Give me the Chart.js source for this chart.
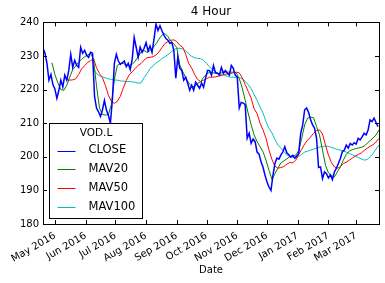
<!DOCTYPE html>
<html>
<head>
<meta charset="utf-8">
<script src="https://cdn.jsdelivr.net/npm/chart.js@4.4.0/dist/chart.umd.min.js"></script>
<style>
html, body { margin: 0; padding: 0; background: #fff; }
canvas { display: block; }
</style>
</head>
<body>
<canvas id="chart" width="385" height="283"></canvas>
<script>
// VOD.L close, sampled every 2 days
const closeDates = [
    '2016-04-19', '2016-04-21', '2016-04-23', '2016-04-25', '2016-04-27', '2016-04-29',
    '2016-05-01', '2016-05-03', '2016-05-05', '2016-05-07', '2016-05-09', '2016-05-11', '2016-05-13', '2016-05-15',
    '2016-05-17', '2016-05-19', '2016-05-21', '2016-05-23', '2016-05-25', '2016-05-27', '2016-05-29', '2016-05-31',
    '2016-06-02', '2016-06-04', '2016-06-06', '2016-06-08', '2016-06-10', '2016-06-12', '2016-06-14', '2016-06-16',
    '2016-06-18', '2016-06-20', '2016-06-22', '2016-06-24', '2016-06-26', '2016-06-28', '2016-06-30',
    '2016-07-02', '2016-07-04', '2016-07-06', '2016-07-08', '2016-07-10', '2016-07-12', '2016-07-14', '2016-07-16',
    '2016-07-18', '2016-07-20', '2016-07-22', '2016-07-24', '2016-07-26', '2016-07-28', '2016-07-30',
    '2016-08-01', '2016-08-03', '2016-08-05', '2016-08-07', '2016-08-09', '2016-08-11', '2016-08-13', '2016-08-15',
    '2016-08-17', '2016-08-19', '2016-08-21', '2016-08-23', '2016-08-25', '2016-08-27', '2016-08-29', '2016-08-31',
    '2016-09-02', '2016-09-04', '2016-09-06', '2016-09-08', '2016-09-10', '2016-09-12', '2016-09-14', '2016-09-16',
    '2016-09-18', '2016-09-20', '2016-09-22', '2016-09-24', '2016-09-26', '2016-09-28', '2016-09-30',
    '2016-10-02', '2016-10-04', '2016-10-06', '2016-10-08', '2016-10-10', '2016-10-12', '2016-10-14', '2016-10-16',
    '2016-10-18', '2016-10-20', '2016-10-22', '2016-10-24', '2016-10-26', '2016-10-28', '2016-10-30',
    '2016-11-01', '2016-11-03', '2016-11-05', '2016-11-07', '2016-11-09', '2016-11-11', '2016-11-13', '2016-11-15',
    '2016-11-17', '2016-11-19', '2016-11-21', '2016-11-23', '2016-11-25', '2016-11-27', '2016-11-29',
    '2016-12-01', '2016-12-03', '2016-12-05', '2016-12-07', '2016-12-09', '2016-12-11', '2016-12-13', '2016-12-15',
    '2016-12-17', '2016-12-19', '2016-12-21', '2016-12-23', '2016-12-25', '2016-12-27', '2016-12-29', '2016-12-31',
    '2017-01-02', '2017-01-04', '2017-01-06', '2017-01-08', '2017-01-10', '2017-01-12', '2017-01-14', '2017-01-16',
    '2017-01-18', '2017-01-20', '2017-01-22', '2017-01-24', '2017-01-26', '2017-01-28', '2017-01-30',
    '2017-02-01', '2017-02-03', '2017-02-05', '2017-02-07', '2017-02-09', '2017-02-11', '2017-02-13',
    '2017-02-15', '2017-02-17', '2017-02-19', '2017-02-21', '2017-02-23', '2017-02-25', '2017-02-27',
    '2017-03-01', '2017-03-03', '2017-03-05', '2017-03-07', '2017-03-09', '2017-03-11',
    '2017-03-13', '2017-03-15', '2017-03-17', '2017-03-19', '2017-03-21', '2017-03-23'
];

const closePrices = [
    232.3, 230.8, 227.8, 222.8, 224.5, 221.5,
    220.2, 217.4, 219.8, 222.8, 220.8, 224.3, 222.8, 225.7,
    230.5, 226.6, 228.7, 227.2, 226.6, 232.6, 230.8, 231.7,
    230.2, 229.6, 231.1, 230.8, 218, 214.5, 213.4, 212,
    214, 216.8, 213.9, 212.3, 210, 217, 227.8,
    230.5, 228.5, 227.5, 228, 228.5, 226.8, 227.8, 226,
    229, 235.5, 232.6, 229.6, 232.6, 231.1, 232.3,
    234, 231.5, 233, 231.1, 235, 239.5, 237.6, 239,
    237.5, 236.2, 235.2, 234.7, 233.8, 234, 231.7, 223.4,
    229.6, 226.3, 225.7, 222.8, 223.7, 221.9, 219.8, 221.3,
    219.8, 222.2, 221.3, 220.4, 222, 220.7, 223.4,
    225.7, 225.7, 224.3, 227.2, 225, 224.9, 224.3, 226.6,
    224.9, 225.7, 224.9, 224.3, 227.2, 226.3, 224.3,
    223.7, 214.5, 216.2, 216, 215.5, 205.5, 207, 204,
    205.3, 204.5, 201.4, 200.8, 198.5, 196.9, 194.5,
    192.5, 191, 190, 194.5, 198, 199.6, 199.3, 200.5,
    201.5, 203, 201.2, 200.6, 199.9, 200.4, 199.6, 200.2,
    201, 207, 209.5, 214, 214.5, 213.2, 211, 209.5,
    208.5, 205.5, 196.8, 197, 193.5, 195.5, 195,
    193.7, 194.6, 193.2, 195.5, 196.6, 198, 199.5,
    201.5, 202, 203.5, 202.6, 204, 203.5, 204.2,
    203.8, 205.5, 205, 205.9, 207, 206.5,
    208, 211, 210.5, 211.5, 210.2, 209
];

// moving averages, sampled every 3 days
const dates = [
    '2016-04-19', '2016-04-22', '2016-04-25', '2016-04-28',
    '2016-05-01', '2016-05-04', '2016-05-07', '2016-05-10', '2016-05-13', '2016-05-16', '2016-05-19', '2016-05-22', '2016-05-25', '2016-05-28', '2016-05-31',
    '2016-06-03', '2016-06-06', '2016-06-09', '2016-06-12', '2016-06-15', '2016-06-18', '2016-06-21', '2016-06-24', '2016-06-27', '2016-06-30',
    '2016-07-03', '2016-07-06', '2016-07-09', '2016-07-12', '2016-07-15', '2016-07-18', '2016-07-21', '2016-07-24', '2016-07-27', '2016-07-30',
    '2016-08-02', '2016-08-05', '2016-08-08', '2016-08-11', '2016-08-14', '2016-08-17', '2016-08-20', '2016-08-23', '2016-08-26', '2016-08-29',
    '2016-09-01', '2016-09-04', '2016-09-07', '2016-09-10', '2016-09-13', '2016-09-16', '2016-09-19', '2016-09-22', '2016-09-25', '2016-09-28',
    '2016-10-01', '2016-10-04', '2016-10-07', '2016-10-10', '2016-10-13', '2016-10-16', '2016-10-19', '2016-10-22', '2016-10-25', '2016-10-28', '2016-10-31',
    '2016-11-03', '2016-11-06', '2016-11-09', '2016-11-12', '2016-11-15', '2016-11-18', '2016-11-21', '2016-11-24', '2016-11-27', '2016-11-30',
    '2016-12-03', '2016-12-06', '2016-12-09', '2016-12-12', '2016-12-15', '2016-12-18', '2016-12-21', '2016-12-24', '2016-12-27', '2016-12-30',
    '2017-01-02', '2017-01-05', '2017-01-08', '2017-01-11', '2017-01-14', '2017-01-17', '2017-01-20', '2017-01-23', '2017-01-26', '2017-01-29',
    '2017-02-01', '2017-02-04', '2017-02-07', '2017-02-10', '2017-02-13', '2017-02-16', '2017-02-19', '2017-02-22', '2017-02-25', '2017-02-28',
    '2017-03-03', '2017-03-06', '2017-03-09', '2017-03-12', '2017-03-15', '2017-03-18', '2017-03-21', '2017-03-24'
];

const mav20 = [
    null, null, null, 228,
    224.5, 222, 220, 219.8, 221.3, 223.7, 226, 227, 228.2, 229, 229.8,
    230.3, 230.8, 229, 221, 214.5, 212.6, 212.4, 212.6, 215.5, 223,
    227.2, 227.8, 227.8, 227.3, 227.2, 227.5, 228.5, 229.8, 231.2, 231.6,
    231.1, 231.6, 232.5, 233.6, 235, 236.2, 236.7, 235.8, 234.4, 233.6,
    232.5, 227.3, 225.4, 223.5, 222, 221, 220.9, 221.9, 222.3, 223.7,
    224.5, 225.2, 225, 224.9, 224.8, 225, 225.2, 225.2, 225.2, 225.2, 225,
    223.3, 220.5, 216.8, 213, 209.5, 206.5, 204.5, 203, 201.5, 199,
    196, 193.3, 195, 196.6, 198.2, 198.8, 199.4, 200, 200.3, 200.5,
    201.8, 205.5, 209.5, 211.5, 211.8, 211.6, 209, 206.5, 202, 197.5,
    195.2, 194.4, 194, 195.5, 197, 199, 200.7, 201.7, 202.1, 202.4,
    202.6, 202.8, 203.2, 204, 204.8, 205.6, 206.5, 208
];

const mav50 = [
    null, null, null, null,
    null, null, null, null, 223, 222.8, 222.9, 223.2, 224.5, 226.2, 227.1,
    228.1, 228.6, 229.2, 226.5, 224.8, 223.5, 221.2, 218.3, 216.5, 215.9,
    216.5, 218, 220.5, 222.7, 224.4, 225.3, 226.3, 227.2, 227.8, 228.8,
    229.5, 229.6, 229.8, 230.3, 231.2, 232.5, 233.7, 234.3, 234.7, 234.8,
    234.3, 233.2, 232.6, 230.5, 227.8, 226.4, 224.5, 223, 222.4, 222.8,
    223.2, 223.7, 223.7, 223.8, 224, 224.2, 224.5, 224.7, 224.8, 225, 225.2,
    225, 223.5, 221.5, 219.5, 217.5, 214.3, 212.9, 210, 208, 205.5,
    202, 199.2, 197.2, 196.6, 196.8, 197.1, 197.8, 198.3, 198.2, 199,
    200.7, 202.2, 203.8, 205, 205.9, 207, 207.8, 208, 206.8, 203.5,
    200.5, 198.3, 197, 196.6, 197, 198, 198.4, 199, 199.6, 200.2,
    200.7, 201.1, 201.9, 202.5, 203.1, 203.6, 204.4, 205.5
];

const mav100 = [
    null, null, null, null,
    null, null, null, null, null, null, null, null, null, null, null,
    null, null, 226, 224.8, 224.1, 223.8, 223.5, 223.2, 223, 222.9,
    222.8, 222.6, 222.5, 222.4, 222.4, 222.3, 222.2, 221.9, 222, 223.6,
    224.8, 226.3, 227.1, 227.9, 228.5, 229.2, 229.8, 230.4, 231.1, 231.9,
    232.3, 232.3, 232.1, 231.5, 230.6, 229.9, 229.5, 229.3, 229.2, 228.7,
    227.8, 226.8, 225.9, 225.3, 224.8, 224.5, 224.3, 224, 223.7, 223.7, 223.6,
    223.5, 223.3, 222.5, 221.5, 220.3, 218.5, 216.8, 214.8, 213, 210.5,
    208.5, 207.1, 205.2, 203.5, 202.6, 201.6, 200.6, 200.1, 199.9, 199.6,
    200.1, 200.7, 201.4, 201.7, 202, 202.3, 202.6, 202.9, 203.1, 203.2,
    203.1, 202.8, 202.5, 202.2, 202, 201.7, 201.4, 201, 200.6, 200.2,
    199.8, 199.4, 199, 199.2, 200, 201, 202.3, 203.5
];

const tickDates = [
    '2016-05-01', '2016-06-01', '2016-07-01', '2016-08-01', '2016-09-01', '2016-10-01',
    '2016-11-01', '2016-12-01', '2017-01-01', '2017-02-01', '2017-03-01'
];
const tickLabels = [
    'May 2016', 'Jun 2016', 'Jul 2016', 'Aug 2016', 'Sep 2016', 'Oct 2016',
    'Nov 2016', 'Dec 2016', 'Jan 2017', 'Feb 2017', 'Mar 2017'
];

const FONT = "'DejaVu Sans', sans-serif";

const toPoints = (xs, vals) => vals.map((v, i) => ({ x: Date.parse(xs[i]), y: v }));

// inward ticks and black frame, matplotlib classic look
const frameTicks = {
    id: 'frameTicks',
    afterDatasetsDraw(chart) {
        const { ctx, chartArea: a, scales } = chart;
        const len = 4;
        ctx.save();
        ctx.strokeStyle = '#000';
        ctx.lineWidth = 1;
        ctx.beginPath();
        scales.x.ticks.forEach(t => {
            const px = Math.round(scales.x.getPixelForValue(t.value)) + 0.5;
            ctx.moveTo(px, a.bottom); ctx.lineTo(px, a.bottom - len);
            ctx.moveTo(px, a.top); ctx.lineTo(px, a.top + len);
        });
        scales.y.ticks.forEach(t => {
            const py = Math.round(scales.y.getPixelForValue(t.value)) + 0.5;
            ctx.moveTo(a.left, py); ctx.lineTo(a.left + len, py);
            ctx.moveTo(a.right, py); ctx.lineTo(a.right - len, py);
        });
        ctx.stroke();
        ctx.strokeRect(Math.round(a.left) + 0.5, Math.round(a.top) + 0.5,
            Math.round(a.right - a.left), Math.round(a.bottom - a.top));
        ctx.restore();
    }
};

// boxed legend with a title in the lower left corner of the plot
const boxLegend = {
    id: 'boxLegend',
    afterDraw(chart) {
        const { ctx, chartArea: a } = chart;
        const w = 93, h = 95;
        const x0 = Math.round(a.left) + 6.5;
        const y0 = Math.round(a.bottom) - 6 - h + 0.5;
        ctx.save();
        ctx.fillStyle = '#fff';
        ctx.fillRect(x0, y0, w, h);
        ctx.strokeStyle = '#000';
        ctx.lineWidth = 1;
        ctx.strokeRect(x0, y0, w, h);

        ctx.fillStyle = '#000';
        ctx.textBaseline = 'middle';
        ctx.textAlign = 'center';
        ctx.font = '10.5px ' + FONT;
        ctx.fillText('VOD.L', x0 + w / 2, y0 + 10);

        ctx.textAlign = 'left';
        ctx.font = '11.5px ' + FONT;
        chart.data.datasets.forEach((ds, i) => {
            const y = y0 + 27 + i * 18.7;
            ctx.strokeStyle = ds.borderColor;
            ctx.lineWidth = 1;
            ctx.beginPath();
            ctx.moveTo(x0 + 8, Math.round(y) + 0.5);
            ctx.lineTo(x0 + 26, Math.round(y) + 0.5);
            ctx.stroke();
            ctx.fillText(ds.label, x0 + 39, y);
        });
        ctx.restore();
    }
};

new Chart(document.getElementById('chart'), {
    type: 'line',
    data: {
        datasets: [
            { label: 'CLOSE', data: toPoints(closeDates, closePrices), borderColor: '#0000ff', borderWidth: 1.5 },
            { label: 'MAV20', data: toPoints(dates, mav20), borderColor: '#008000', borderWidth: 1 },
            { label: 'MAV50', data: toPoints(dates, mav50), borderColor: '#ff0000', borderWidth: 1 },
            { label: 'MAV100', data: toPoints(dates, mav100), borderColor: '#00bfbf', borderWidth: 1 }
        ]
    },
    options: {
        responsive: false,
        animation: false,
        layout: { padding: { left: 0, right: 6, top: 0, bottom: 0 } },
        elements: { point: { radius: 0 }, line: { tension: 0 } },
        plugins: {
            legend: { display: false },
            tooltip: { enabled: false },
            title: {
                display: true,
                text: '4 Hour',
                fullSize: false,
                color: '#000',
                font: { family: FONT, size: 12, weight: 'normal' },
                padding: { top: 5, bottom: 3 }
            }
        },
        scales: {
            x: {
                type: 'linear',
                min: Date.parse(dates[0]),
                max: Date.parse(dates[dates.length - 1]),
                afterBuildTicks: (scale) => {
                    scale.ticks = tickDates.map(d => ({ value: Date.parse(d) }));
                },
                afterFit: (scale) => { scale.height = 59; },
                grid: { display: false, drawTicks: false },
                border: { display: false },
                ticks: {
                    autoSkip: false,
                    minRotation: 30,
                    maxRotation: 30,
                    padding: 6,
                    color: '#000',
                    font: { family: FONT, size: 10 },
                    callback: (value, index) => tickLabels[index]
                },
                title: {
                    display: true,
                    text: 'Date',
                    color: '#000',
                    font: { family: FONT, size: 10 },
                    padding: { top: 0, bottom: 7 }
                }
            },
            y: {
                min: 180,
                max: 240,
                afterFit: (scale) => { scale.width = 43; },
                grid: { display: false, drawTicks: false },
                border: { display: false },
                ticks: {
                    stepSize: 10,
                    padding: 4,
                    color: '#000',
                    font: { family: FONT, size: 10 }
                }
            }
        }
    },
    plugins: [frameTicks, boxLegend]
});
</script>
</body>
</html>
